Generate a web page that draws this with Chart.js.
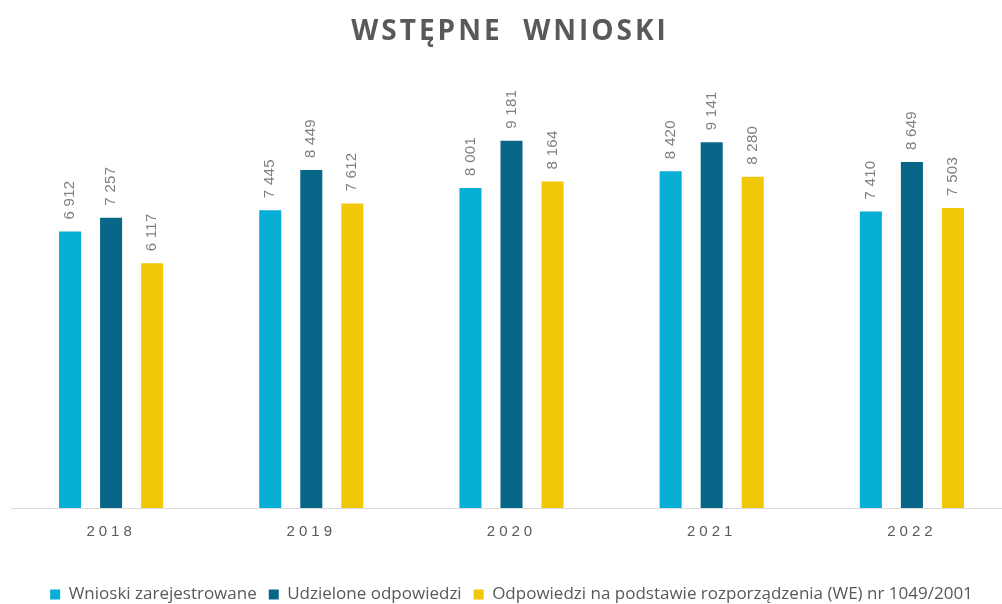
<!DOCTYPE html>
<html>
<head>
<meta charset="utf-8">
<script src="https://cdn.jsdelivr.net/npm/chart.js@4.4.1/dist/chart.umd.min.js"></script>
<style>
  html, body { margin: 0; padding: 0; background: #ffffff; overflow: hidden; }
  #wrap { width: 1002px; height: 604px; overflow: hidden; position: relative; }
  #box { width: 1012px; height: 613px; position: absolute; left: 0; top: 0; }
</style>
</head>
<body>
<div id="wrap"><div id="box"><canvas id="c"></canvas></div></div>
<script>
const chartTitle = 'WSTĘPNE  WNIOSKI';
const categories = ['2018', '2019', '2020', '2021', '2022'];
const seriesNames = [
  'Wnioski zarejestrowane',
  'Udzielone odpowiedzi',
  'Odpowiedzi na podstawie rozporządzenia (WE) nr 1049/2001'
];
const registered = [6912, 7445, 8001, 8420, 7410];
const answered = [7257, 8449, 9181, 9141, 8649];
const regulationAnswers = [6117, 7612, 8164, 8280, 7503];
const seriesColors = ['#07AED6', '#086788', '#F0C808'];

function fmt(v) {
  return String(v).replace(/\B(?=(\d{3})+(?!\d))/g, ' ');
}

const titlePlugin = {
  id: 'customTitle',
  afterDraw(chart) {
    const ctx = chart.ctx;
    ctx.save();
    ctx.font = 'bold 28px "Open Sans"';
    ctx.fillStyle = '#595959';
    ctx.letterSpacing = '3px';
    ctx.textAlign = 'center';
    ctx.textBaseline = 'alphabetic';
    ctx.fillText(chartTitle, 510, 40);
    ctx.restore();
  }
};

const valueLabels = {
  id: 'valueLabels',
  afterDatasetsDraw(chart) {
    const ctx = chart.ctx;
    ctx.save();
    ctx.font = '15px "Liberation Sans"';
    ctx.fillStyle = '#808080';
    ctx.letterSpacing = '0.3px';
    ctx.textAlign = 'left';
    ctx.textBaseline = 'middle';
    chart.data.datasets.forEach((ds, i) => {
      const meta = chart.getDatasetMeta(i);
      meta.data.forEach((bar, j) => {
        ctx.save();
        ctx.translate(bar.x, bar.y - 12);
        ctx.rotate(-Math.PI / 2);
        ctx.fillText(fmt(ds.data[j]), 0, 0);
        ctx.restore();
      });
    });
    ctx.restore();
  }
};

const spacedTicks = {
  id: 'spacedTicks',
  afterLayout(chart) {
    const s = chart.scales.x;
    if (s && !s._spacedWrapped) {
      const orig = s.drawLabels.bind(s);
      s.drawLabels = function (area) {
        const ctx = this.ctx;
        ctx.save();
        ctx.letterSpacing = '4px';
        orig(area);
        ctx.restore();
      };
      s._spacedWrapped = true;
    }
  }
};

new Chart(document.getElementById('c'), {
  type: 'bar',
  data: {
    labels: categories,
    datasets: [
      { label: seriesNames[0], data: registered, backgroundColor: seriesColors[0] },
      { label: seriesNames[1], data: answered, backgroundColor: seriesColors[1] },
      { label: seriesNames[2], data: regulationAnswers, backgroundColor: seriesColors[2] }
    ]
  },
  options: {
    responsive: true,
    maintainAspectRatio: false,
    animation: false,
    events: [],
    datasets: { bar: { categoryPercentage: 0.615, barPercentage: 0.537 } },
    layout: { padding: { left: 11, right: 0, top: 108, bottom: 0 } },
    scales: {
      x: {
        grid: { display: false },
        border: { display: true, color: '#D9D9D9', width: 1 },
        afterFit(scale) { scale.height = 66; },
        ticks: {
          color: '#595959',
          padding: 7,
          font: { family: '"Liberation Sans"', size: 15 }
        }
      },
      y: {
        display: false,
        min: 0,
        max: 10000
      }
    },
    plugins: {
      title: { display: false },
      tooltip: { enabled: false },
      legend: {
        position: 'bottom',
        labels: {
          color: '#595959',
          boxWidth: 10,
          boxHeight: 10,
          padding: 12,
          font: { family: '"Open Sans"', size: 17 }
        }
      }
    }
  },
  plugins: [titlePlugin, valueLabels, spacedTicks]
});
</script>
</body>
</html>
